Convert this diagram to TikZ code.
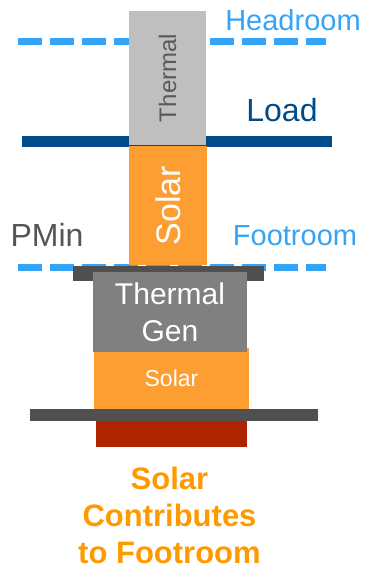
\documentclass[tikz,border=0pt]{standalone}
\usepackage{fontspec}
\setmainfont{Liberation Sans}
\usepackage{xcolor}
\usetikzlibrary{positioning}
\definecolor{roomblue}{HTML}{35A3F8}
\definecolor{loadblue}{HTML}{004C8A}
\definecolor{thermlight}{HTML}{BFBFBF}
\definecolor{thermtext}{HTML}{595959}
\definecolor{thermmid}{HTML}{808080}
\definecolor{solarorange}{HTML}{FD9E32}
\definecolor{bardark}{HTML}{505050}
\definecolor{baseRed}{HTML}{AE2300}
\definecolor{noteorange}{HTML}{FF9900}
\definecolor{pmintext}{HTML}{555555}
\tikzset{
  box/.style={inner sep=0pt, outer sep=0pt, align=center},
  thermbox/.style={box, fill=thermlight, text=thermtext},
  genbox/.style={box, fill=thermmid, text=white},
  solarbox/.style={box, fill=solarorange, text=white},
  barbox/.style={box, fill=bardark},
  redbox/.style={box, fill=baseRed},
  dashline/.style={line width=7pt, draw=roomblue, dash pattern=on 24pt off 8pt},
  loadline/.style={line width=11pt, draw=loadblue},
  lbl/.style={anchor=base, inner sep=0pt},
}

\begin{document}
\begin{tikzpicture}[x=1pt, y=-1pt]
  \useasboundingbox (0,0) rectangle (367,569);
  % reference lines
  \coordinate (head-l) at (18,42);
  \coordinate (head-r) at (326,42);
  \coordinate (foot-l) at (18,267);
  \coordinate (foot-r) at (326,267);
  \coordinate (load-l) at (22,141.5);
  \coordinate (load-r) at (332,141.5);
  \draw[dashline] (head-l) -- (head-r);
  \draw[loadline] (load-l) -- (load-r);
  \draw[dashline] (foot-l) -- (foot-r);
  % left stack
  \node[thermbox, rotate=90, minimum width=134pt, minimum height=77pt,
    font=\fontsize{24}{28}\selectfont] (thermtop) at (167.5,78) {Thermal};
  \node[solarbox, rotate=90, minimum width=119pt, minimum height=78pt,
    font=\fontsize{34}{40}\selectfont] (solartop) at (168,205.5) {Solar};
  % right stack
  \node[barbox, minimum width=191pt, minimum height=15pt] (pminbar) at (168.5,273.5) {};
  \node[solarbox, minimum width=155pt, minimum height=61pt,
    font=\fontsize{23}{27}\selectfont] (solarlow) at (171.5,378.5) {\raisebox{-4pt}{Solar}};
  \node[genbox, minimum width=154pt, minimum height=80pt,
    font=\fontsize{30}{37}\selectfont] (thermgen) at (170,312) {Thermal\\Gen};
  \node[barbox, minimum width=288pt, minimum height=12pt] (floorbar) at (174,415) {};
  \node[redbox, minimum width=151pt, minimum height=26pt] (base) at (171.5,434) {};
  % labels
  \node[lbl, text=roomblue, font=\fontsize{29}{34}\selectfont] (headroom) at (293,31) {Headroom};
  \node[lbl, text=loadblue, font=\fontsize{32}{38}\selectfont] (load) at (282,122) {Load};
  \node[lbl, text=pmintext, font=\fontsize{32}{38}\selectfont] (pmin) at (47,246) {PMin};
  \node[lbl, text=roomblue, font=\fontsize{29}{34}\selectfont] (footroom) at (295,245) {Footroom};
  \node[box, text=noteorange, font=\bfseries\fontsize{31}{37}\selectfont]
    (note) at (169.5,515) {Solar\\Contributes\\to Footroom};
\end{tikzpicture}
\end{document}
